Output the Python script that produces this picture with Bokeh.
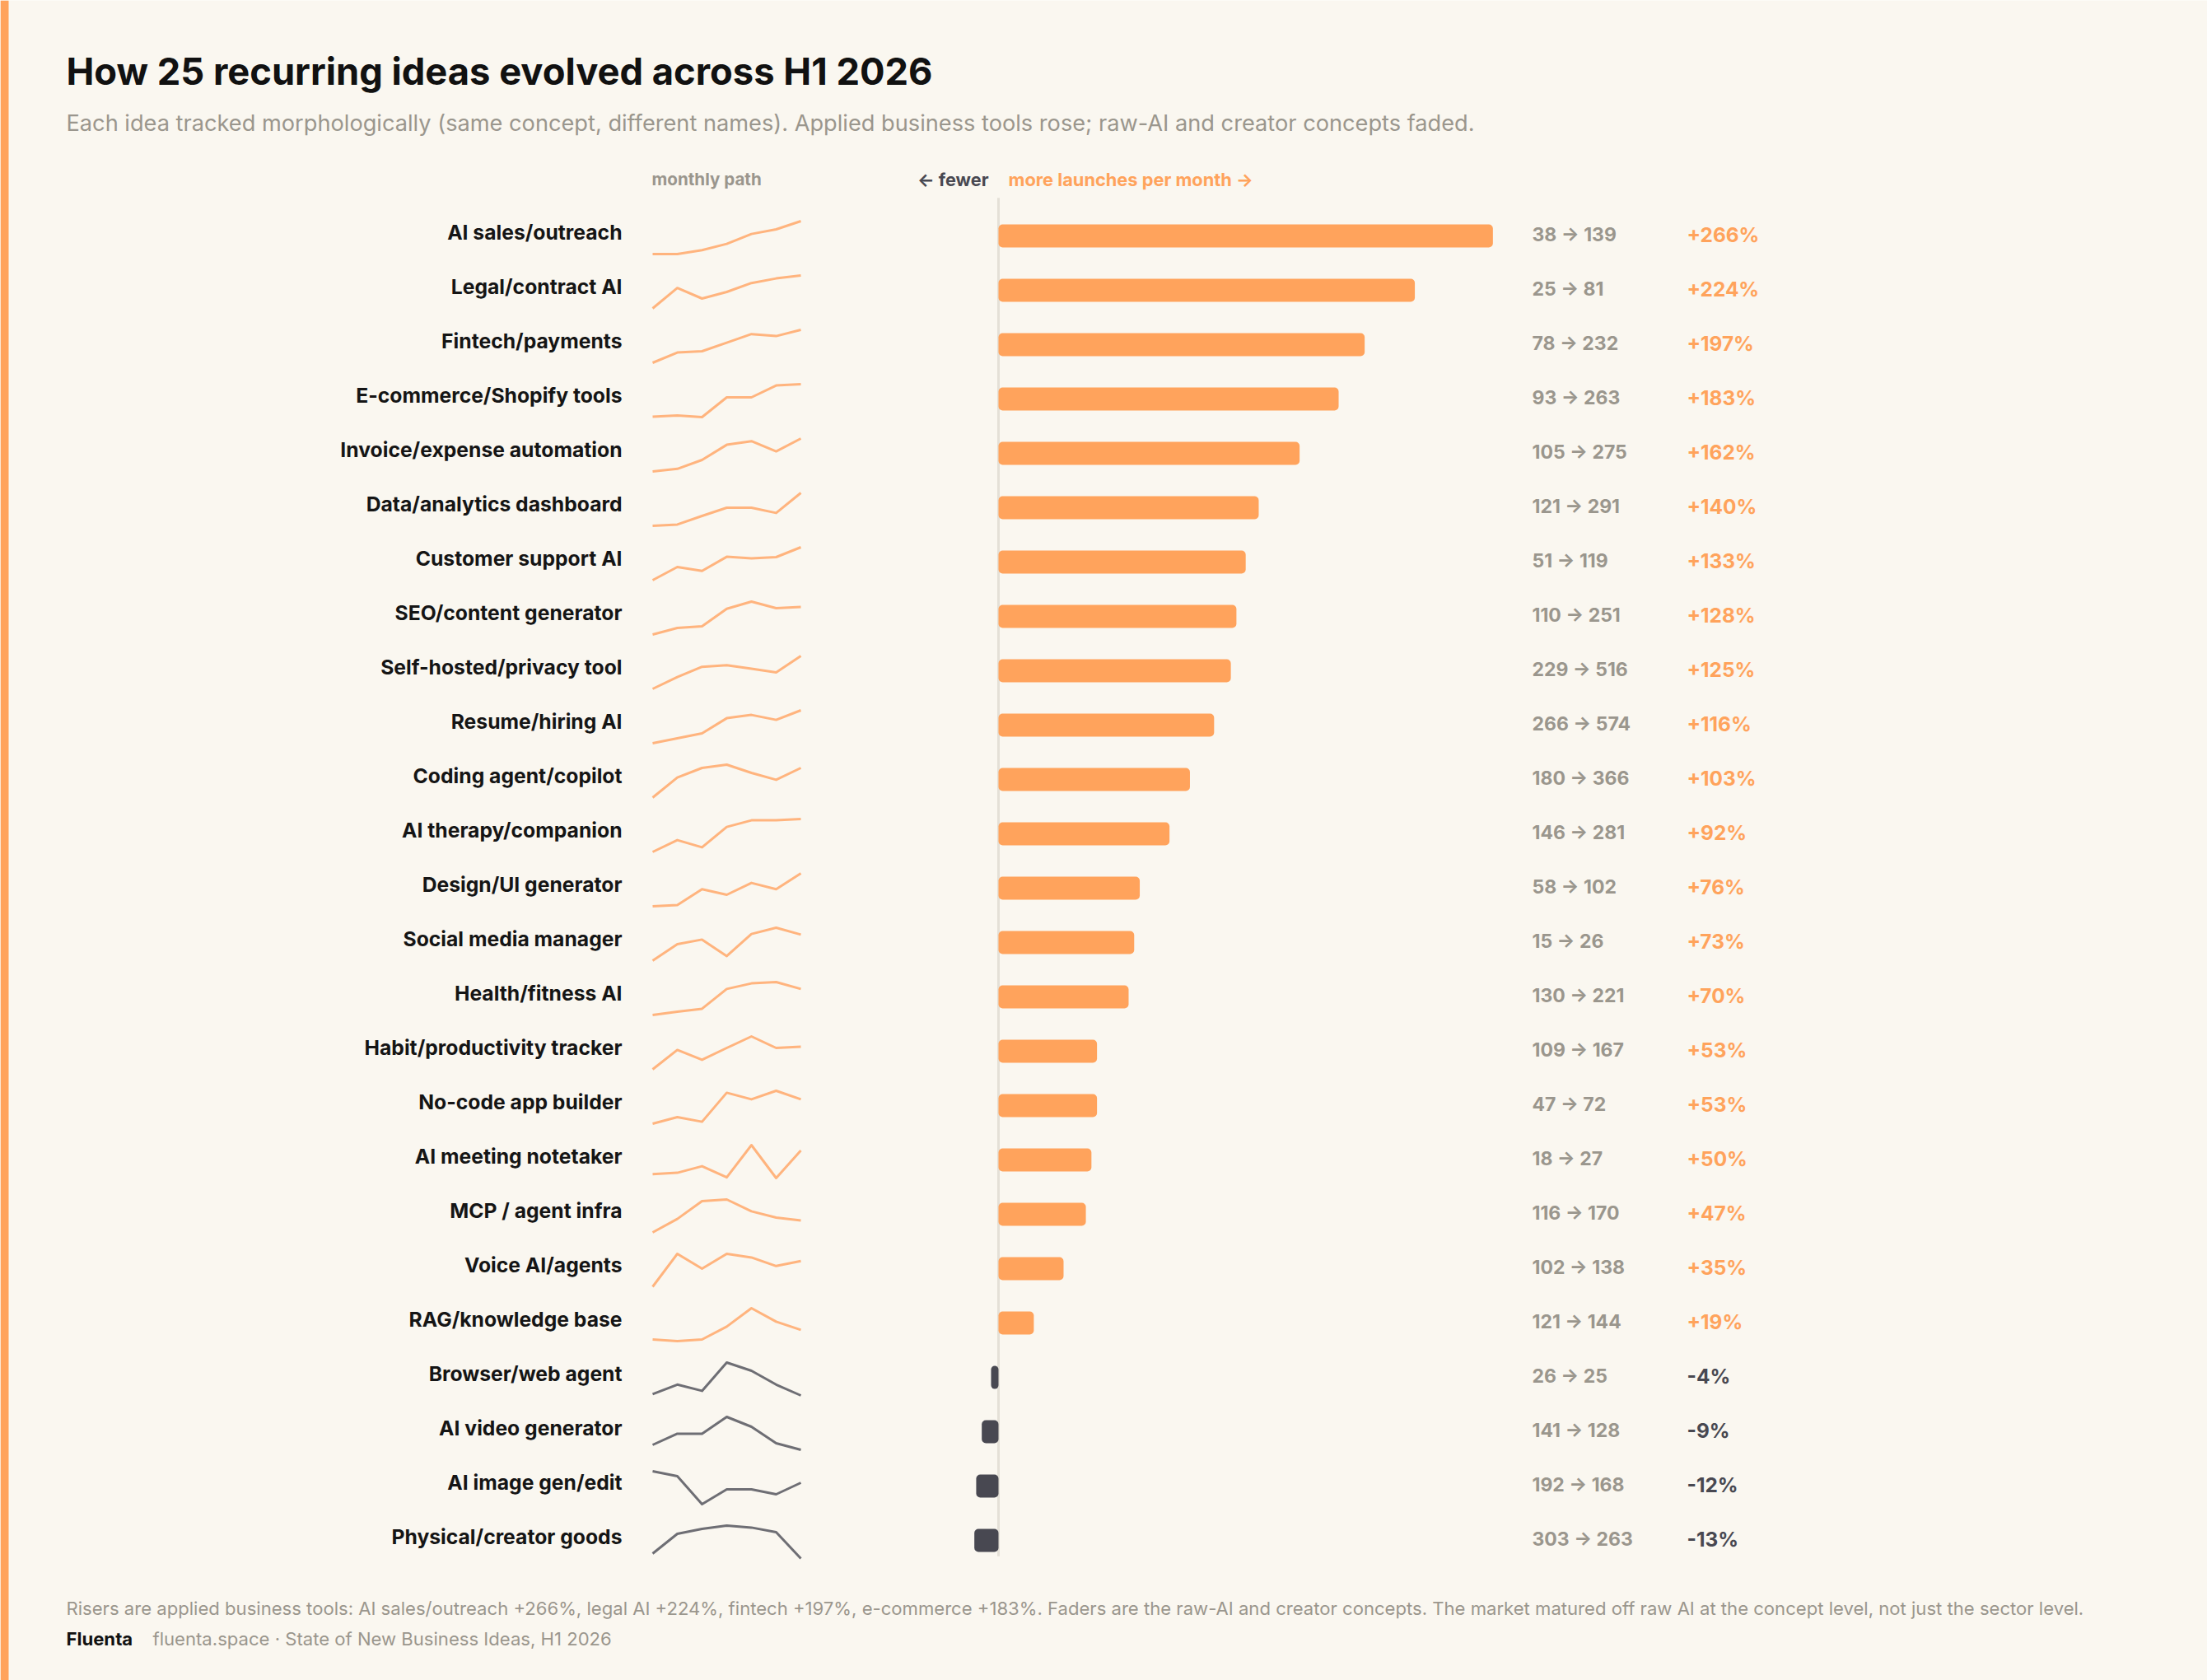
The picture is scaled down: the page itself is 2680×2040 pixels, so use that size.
from bokeh.plotting import figure
from bokeh.models import Range1d, ColumnDataSource, BoxAnnotation
from bokeh.core.properties import value
from bokeh.embed import file_html
from bokeh.resources import INLINE

# ---------------- data ----------------
categories = [
    "AI sales/outreach", "Legal/contract AI", "Fintech/payments", "E-commerce/Shopify tools",
    "Invoice/expense automation", "Data/analytics dashboard", "Customer support AI",
    "SEO/content generator", "Self-hosted/privacy tool", "Resume/hiring AI",
    "Coding agent/copilot", "AI therapy/companion", "Design/UI generator",
    "Social media manager", "Health/fitness AI", "Habit/productivity tracker",
    "No-code app builder", "AI meeting notetaker", "MCP / agent infra", "Voice AI/agents",
    "RAG/knowledge base", "Browser/web agent", "AI video generator", "AI image gen/edit",
    "Physical/creator goods",
]
start_vals = [38, 25, 78, 93, 105, 121, 51, 110, 229, 266, 180, 146, 58, 15, 130,
              109, 47, 18, 116, 102, 121, 26, 141, 192, 303]
end_vals = [139, 81, 232, 263, 275, 291, 119, 251, 516, 574, 366, 281, 102, 26, 221,
            167, 72, 27, 170, 138, 144, 25, 128, 168, 263]
pct_change = [266, 224, 197, 183, 162, 140, 133, 128, 125, 116, 103, 92, 76, 73, 70,
              53, 53, 50, 47, 35, 19, -4, -9, -12, -13]
# monthly path, each row scaled to its own min..max (0..100)
monthly_path = [
    [0, 0, 12, 31, 61, 75, 100],
    [0, 62, 30, 50, 77, 91, 100],
    [0, 31, 35, 61, 87, 81, 100],
    [1, 5, 0, 60, 60, 96, 100],
    [0, 8, 35, 81, 92, 61, 100],
    [0, 4, 30, 55, 55, 39, 100],
    [0, 40, 28, 71, 66, 70, 100],
    [0, 20, 25, 78, 100, 80, 84],
    [0, 36, 67, 72, 61, 50, 100],
    [0, 15, 30, 76, 86, 71, 100],
    [0, 61, 90, 100, 75, 54, 90],
    [0, 36, 14, 76, 96, 96, 100],
    [0, 4, 52, 35, 71, 52, 100],
    [0, 50, 64, 14, 81, 100, 79],
    [0, 10, 19, 79, 96, 100, 79],
    [0, 59, 29, 65, 100, 65, 69],
    [0, 20, 6, 94, 74, 100, 74],
    [12, 16, 36, 2, 100, 0, 84],
    [0, 41, 95, 100, 64, 45, 36],
    [0, 100, 55, 100, 89, 63, 78],
    [5, 0, 5, 44, 100, 59, 34],
    [4, 33, 14, 100, 75, 33, 0],
    [15, 49, 49, 100, 70, 20, 0],
    [100, 85, 0, 45, 45, 30, 65],
    [15, 75, 90, 100, 94, 80, 0],
]

title_text = "How 25 recurring ideas evolved across H1 2026"
subtitle_text = ("Each idea tracked morphologically (same concept, different names). "
                 "Applied business tools rose; raw-AI and creator concepts faded.")
footer_text = ("Risers are applied business tools: AI sales/outreach +266%, legal AI +224%, "
               "fintech +197%, e-commerce +183%. Faders are the raw-AI and creator concepts. "
               "The market matured off raw AI at the concept level, not just the sector level.")
brand_text = "Fluenta"
source_text = "fluenta.space \u00b7 State of New Business Ideas, H1 2026"

# ---------------- style / layout ----------------
W, H = 2680, 2040
BG = "#FAF7F0"
ORANGE = "#FFA35C"
ORANGE_LINE = "#FFB47E"
DARK = "#484851"
DARK_LINE = "#6E6E74"
GRAY = "#9A968D"
INK = "#151515"
FONT = value("Inter")

ROW0, ROW_STEP = 286, 66          # pixel centre of first row, row pitch
ZERO_X, PX_PER_PCT = 1212, 2.257  # bar baseline and bar scale
SPARK_X0, SPARK_STEP = 792, 30    # sparkline left edge, px per month

p = figure(width=W, height=H, x_range=Range1d(0, W), y_range=Range1d(H, 0),
           output_backend="svg", toolbar_location=None,
           x_axis_location=None, y_axis_location=None, min_border=0)
p.grid.visible = False
p.outline_line_color = None
p.background_fill_color = BG
p.border_fill_color = BG

p.extra_x_ranges = {
    "pct": Range1d(-ZERO_X / PX_PER_PCT, (W - ZERO_X) / PX_PER_PCT),
    "month": Range1d(-SPARK_X0 / SPARK_STEP, (W - SPARK_X0) / SPARK_STEP),
}
p.extra_y_ranges = {"row": Range1d((H - ROW0) / ROW_STEP, -ROW0 / ROW_STEP)}

# left accent stripe
p.add_layout(BoxAnnotation(left=0, right=10, fill_color=ORANGE, fill_alpha=1, line_color=None))

rows = list(range(len(categories)))
is_up = [v >= 0 for v in pct_change]
label_rows = [r - 5 / ROW_STEP for r in rows]
value_rows = [r - 2 / ROW_STEP for r in rows]

# zero line
p.segment(x0=[0], x1=[0], y0=[-0.7], y1=[len(categories) - 0.71], line_color="#E4E0D7",
          line_width=3, x_range_name="pct", y_range_name="row")

# bars
bar_src = ColumnDataSource(dict(
    row=rows,
    left=[min(0, v) for v in pct_change],
    right=[max(0, v) for v in pct_change],
    color=[ORANGE if u else DARK for u in is_up],
))
p.hbar(y="row", left="left", right="right", height=28 / ROW_STEP, source=bar_src,
       fill_color="color", line_color=None, border_radius=5,
       x_range_name="pct", y_range_name="row")

# sparklines
spark_src = ColumnDataSource(dict(
    xs=[list(range(len(path))) for path in monthly_path],
    ys=[[i + (22 - 40 * v / 100) / ROW_STEP for v in path] for i, path in enumerate(monthly_path)],
    color=[ORANGE_LINE if u else DARK_LINE for u in is_up],
))
p.multi_line(xs="xs", ys="ys", line_color="color", line_width=3, source=spark_src,
             line_join="round", x_range_name="month", y_range_name="row")

# row labels
p.text(x=[755] * len(rows), y=label_rows, text=categories, y_range_name="row",
       text_align="right", text_baseline="middle", text_font=FONT,
       text_font_style="bold", text_font_size="24.7px", text_color=INK)

# start -> end values
p.text(x=[1860] * len(rows), y=value_rows,
       text=[f"{a} \u2192 {b}" for a, b in zip(start_vals, end_vals)], y_range_name="row",
       text_align="left", text_baseline="middle", text_font=FONT,
       text_font_style="bold", text_font_size="23px", text_color=GRAY)

# percentage change
p.text(x=[2048] * len(rows), y=value_rows,
       text=[f"{v:+d}%" for v in pct_change], y_range_name="row",
       text_color=[ORANGE if u else DARK for u in is_up],
       text_align="left", text_baseline="middle", text_font=FONT,
       text_font_style="bold", text_font_size="24.4px")

# headers
p.text(x=[80], y=[86], text=[title_text], text_align="left", text_baseline="middle",
       text_font=FONT, text_font_style="bold", text_font_size="45.3px", text_color="#111111")
p.text(x=[80], y=[149], text=[subtitle_text], text_align="left", text_baseline="middle",
       text_font=FONT, text_font_size="27.2px", text_color=GRAY)
p.text(x=[791], y=[217], text=["monthly path"], text_align="left", text_baseline="middle",
       text_font=FONT, text_font_style="bold", text_font_size="20.6px", text_color=GRAY)
p.text(x=[1200], y=[217], text=["\u2190 fewer"], text_align="right", text_baseline="middle",
       text_font=FONT, text_font_style="bold", text_font_size="21.7px", text_color=DARK)
p.text(x=[1224], y=[217], text=["more launches per month \u2192"], text_align="left",
       text_baseline="middle", text_font=FONT, text_font_style="bold",
       text_font_size="21.8px", text_color=ORANGE)

# footer
p.text(x=[80], y=[1952], text=[footer_text], text_align="left", text_baseline="middle",
       text_font=FONT, text_font_size="22.1px", text_color=GRAY)
p.text(x=[80], y=[1989], text=[brand_text], text_align="left", text_baseline="middle",
       text_font=FONT, text_font_style="bold", text_font_size="22.1px", text_color="#111111")
p.text(x=[185], y=[1989], text=[source_text], text_align="left", text_baseline="middle",
       text_font=FONT, text_font_size="22.1px", text_color=GRAY)

open("out.html", "w").write(file_html(p, INLINE))
